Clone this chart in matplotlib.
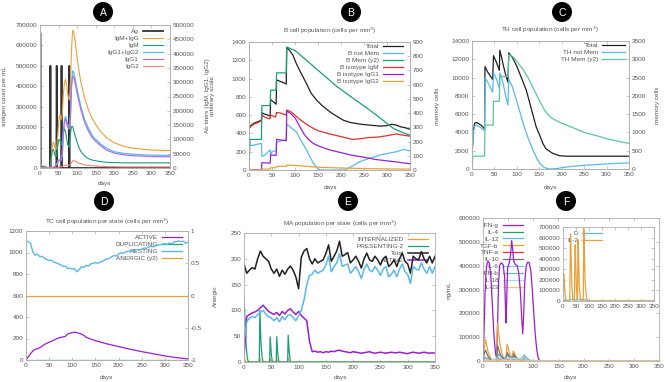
import matplotlib
matplotlib.use('Agg')
import matplotlib.pyplot as plt
from matplotlib.patches import Ellipse

plt.rcParams['font.family'] = ['Liberation Sans', 'DejaVu Sans']

W, H = 669, 382
FS = 4.6
TC = '#555555'
SC = '#b0b0b0'
BLACK = '#202020'; ORANGE = '#e9a23b'; GREEN = '#1a9e77'; LBLUE = '#5bb8e8'
PURPLE = '#9a1fd0'; RED = '#e0302a'; GRAY = '#707070'

# ---------------- Panel A data ----------------
ag_days = [0, 1.5, 2, 27, 28, 29, 44, 45, 46, 57, 58, 59, 78, 79, 80, 350]
ag_vals = [660000, 660000, 0, 0, 500000, 0, 0, 500000, 0, 0, 500000, 0, 0, 500000, 0, 0]
ab_days = [0, 5, 10, 15, 20, 27, 30, 33, 36, 39, 42, 45, 48, 51, 54, 57, 60, 63, 66, 69, 72, 75, 79,
           82, 85, 88, 91, 95, 100, 105, 110, 120, 130, 140, 150, 165, 180, 200, 225, 250, 300, 350]
igm_igg = [0, 6000, 7000, 4000, 2000, 1000, 30000, 75000, 91000, 78000, 64000, 68000, 120000, 170000,
           185000, 168000, 190000, 260000, 300000, 310000, 285000, 255000, 237000, 300000, 420000, 482000,
           475000, 440000, 385000, 340000, 300000, 245000, 205000, 175000, 152000, 125000, 105000, 88000,
           76000, 69000, 63000, 61000]
igm = [0, 5000, 6000, 3000, 1000, 0, 30000, 60000, 65000, 50000, 40000, 42000, 80000, 100000, 98000,
       80000, 95000, 125000, 138000, 125000, 100000, 80000, 72000, 120000, 145000, 145000, 130000, 110000,
       90000, 72000, 58000, 42000, 33000, 28000, 25000, 22000, 20000, 19000, 18000, 18000, 18000, 18000]
igg1_igg2 = [0, 0, 0, 0, 0, 0, 1000, 2000, 3000, 5000, 8000, 12000, 25000, 28000, 30000, 30000, 50000,
             130000, 170000, 180000, 165000, 150000, 145000, 190000, 300000, 340000, 335000, 310000, 275000,
             245000, 215000, 170000, 140000, 115000, 100000, 82000, 68000, 57000, 51000, 48000, 45000, 44000]
igg1 = [0, 0, 0, 0, 0, 0, 800, 1500, 2500, 4000, 7000, 10000, 22000, 25000, 27000, 27000, 45000, 120000,
        160000, 170000, 155000, 142000, 137000, 180000, 285000, 322000, 318000, 295000, 260000, 232000,
        204000, 160000, 130000, 107000, 93000, 76000, 62000, 52000, 46000, 43000, 40000, 39000]
igg2 = [0, 0, 0, 0, 0, 0, 0, 0, 0, 0, 0, 0, 2000, 3000, 4000, 4000, 6000, 8000, 10000, 10000, 10000, 9500,
        9000, 12000, 18000, 25000, 26000, 24000, 20000, 17000, 15000, 11000, 9000, 8000, 7000, 6000, 5000,
        4500, 4000, 4000, 4000, 4000]

# ---------------- Panel B data ----------------
b_tot_d = [0, 3, 10, 20, 27, 28, 35, 46, 47, 52, 59, 60, 65, 75, 81, 82, 88, 95, 103, 110, 125, 135, 147,
           160, 176, 190, 205, 220, 241, 260, 285, 300, 310, 320, 330, 340, 350]
b_tot_v = [460, 480, 510, 530, 545, 625, 610, 590, 770, 750, 720, 985, 975, 955, 940, 1340, 1310, 1260,
           1163, 1090, 945, 840, 764, 700, 636, 590, 545, 520, 502, 492, 480, 485, 500, 492, 472, 462, 445]
b_nm_d = [0, 2, 10, 20, 27, 28, 35, 46, 47, 50, 59, 60, 70, 81, 82, 90, 103, 110, 125, 140, 150, 155, 208,
          220, 241, 260, 285, 300, 321, 335, 350]
b_nm_v = [440, 270, 270, 285, 290, 150, 165, 220, 160, 200, 210, 300, 320, 330, 500, 470, 418, 350, 218, 73,
          10, 0, 0, 30, 91, 125, 164, 180, 200, 225, 210]
b_mem_d = [0, 2, 27, 28, 46, 47, 59, 60, 81, 82, 100, 125, 154, 190, 227, 250, 277, 314, 335, 350]
b_mem_v = [0, 215, 215, 453, 453, 561, 561, 683, 683, 865, 840, 771, 690, 590, 502, 450, 386, 292, 262, 245]
b_igm_d = [0, 5, 10, 20, 27, 28, 35, 46, 47, 58, 60, 70, 81, 82, 90, 100, 110, 125, 140, 150, 175, 200,
           225, 240, 260, 280, 300, 320, 330, 350]
b_igm_v = [455, 480, 500, 520, 540, 600, 575, 560, 600, 580, 630, 620, 600, 655, 640, 600, 555, 500, 455,
           430, 395, 365, 335, 340, 355, 360, 375, 395, 385, 370]
b_g1_d = [0, 27, 28, 46, 47, 59, 60, 81, 82, 90, 100, 110, 120, 130, 140, 150, 175, 200, 225, 250, 275,
          300, 325, 350]
b_g1_v = [0, 0, 80, 75, 165, 160, 335, 320, 645, 620, 570, 480, 390, 330, 290, 265, 220, 190, 160, 140,
          115, 100, 85, 68]
b_g2_d = [0, 27, 28, 46, 47, 59, 60, 81, 82, 100, 125, 150, 200, 250, 300, 350]
b_g2_v = [0, 0, 10, 10, 25, 25, 40, 40, 55, 50, 40, 30, 22, 16, 12, 10]

# ---------------- Panel C data ----------------
c_tot_d = [0, 3, 6, 10, 20, 28, 29, 35, 46, 48, 55, 61, 62, 66, 70, 75, 80, 82, 90, 99, 110, 121, 130, 143,
           150, 158, 165, 180, 195, 210, 250, 300, 350]
c_tot_v = [1400, 4200, 5000, 5100, 4800, 4400, 11200, 10600, 9800, 12400, 11600, 10800, 13000, 12200,
           11300, 10300, 9500, 12700, 12200, 11345, 10000, 8618, 7000, 4618, 3800, 2800, 2200, 1709, 1455,
           1400, 1400, 1400, 1400]
c_nm_d = [0, 3, 6, 10, 20, 28, 29, 35, 46, 48, 55, 61, 62, 66, 70, 75, 80, 82, 90, 99, 107, 114, 125, 136,
          145, 151, 160, 166, 175, 190, 200, 225, 250, 275, 300, 325, 350]
c_nm_v = [1400, 4000, 4700, 4800, 4500, 4200, 10000, 9500, 8400, 10500, 9800, 8800, 10500, 10000, 9200,
          8000, 7000, 9800, 9000, 7527, 6200, 4981, 3400, 2072, 1100, 618, 200, 72, 0, 50, 150, 300, 400,
          480, 560, 620, 660]
c_mem_d = [0, 2, 28, 29, 47, 48, 61, 62, 81, 82, 90, 100, 112, 125, 137, 150, 162, 175, 187, 200, 225, 250,
           275, 300, 325, 350]
c_mem_v = [0, 350, 350, 1200, 1200, 1850, 1850, 2530, 2530, 3130, 3080, 2950, 2750, 2500, 2200, 1880, 1600,
           1410, 1330, 1250, 1130, 1000, 920, 830, 760, 700]

# ---------------- Panel D data ----------------
d_days = [0, 5, 10, 15, 20, 25, 30, 35, 40, 45, 50, 55, 60, 65, 70, 75, 80, 85, 90, 95, 100, 105, 110, 115,
          120, 125, 130, 135, 140, 145, 150, 155, 160, 165, 170, 175, 180, 185, 190, 195, 200, 205, 210,
          215, 220, 225, 230, 235, 240, 245, 250, 255, 260, 265, 270, 275, 280, 285, 290, 295, 300, 305,
          310, 315, 320, 325, 330, 335, 340, 345, 350]
d_resting = [1110, 1100, 1085, 1000, 975, 985, 960, 965, 945, 935, 925, 930, 910, 905, 895, 885, 870, 875,
             850, 855, 845, 850, 820, 840, 870, 860, 880, 875, 895, 900, 905, 900, 910, 918, 930, 940, 945,
             960, 972, 968, 985, 998, 992, 1005, 1012, 1008, 1020, 1018, 1028, 1025, 1030, 1042, 1038, 1050,
             1058, 1052, 1060, 1068, 1070, 1078, 1082, 1075, 1088, 1080, 1098, 1100, 1108, 1100, 1105,
             1085, 1095]
d_act_d = [0, 5, 10, 15, 20, 25, 30, 35, 40, 45, 50, 55, 60, 65, 70, 75, 80, 85, 90, 95, 100, 105, 110, 115,
           120, 125, 130, 140, 150, 160, 175, 200, 225, 250, 275, 300, 325, 350]
d_active = [0, 30, 60, 85, 100, 105, 115, 130, 145, 155, 165, 175, 185, 195, 205, 210, 215, 220, 240, 250,
            255, 258, 255, 248, 240, 230, 210, 195, 180, 168, 150, 125, 100, 78, 58, 38, 22, 10]
d_dup = [0, 0, 0, 0, 0, 0, 0, 0, 0, 0, 0, 0, 0, 0, 0, 0, 0, 0, 0, 0, 0, 0, 0, 0, 0, 0, 0, 0, 0, 0, 0, 0, 0, 0,
         0, 0, 0, 0]
d_anergic = [0, 0, 0, 0, 0, 0, 0, 0, 0, 0, 0, 0, 0, 0, 0, 0, 0, 0, 0, 0, 0, 0, 0, 0, 0, 0, 0, 0, 0, 0, 0, 0, 0,
             0, 0, 0, 0, 0]

# ---------------- Panel E data ----------------
e_days = d_days
e_total = [190, 172, 178, 183, 180, 200, 215, 205, 200, 195, 180, 172, 180, 166, 178, 170, 180, 186, 178,
           165, 142, 203, 215, 220, 200, 190, 200, 192, 195, 198, 210, 227, 195, 205, 215, 234, 205, 208,
           212, 192, 198, 205, 195, 182, 200, 211, 198, 195, 205, 198, 188, 200, 205, 185, 190, 198, 185,
           200, 211, 195, 190, 172, 205, 200, 198, 214, 200, 192, 205, 192, 205]
e_resting = [40, 78, 85, 88, 86, 92, 96, 100, 93, 88, 85, 80, 86, 78, 88, 82, 90, 92, 86, 80, 90, 100, 120,
             150, 168, 170, 178, 172, 175, 178, 188, 205, 175, 185, 192, 210, 185, 188, 190, 172, 178, 185,
             175, 162, 180, 190, 178, 175, 185, 178, 168, 180, 185, 165, 170, 178, 165, 180, 190, 175, 170,
             152, 185, 180, 178, 192, 180, 172, 185, 172, 185]
e_active = [10, 88, 92, 95, 97, 100, 105, 110, 104, 98, 95, 92, 96, 90, 98, 93, 100, 103, 97, 92, 98, 90,
            85, 80, 40, 20, 21, 19, 20, 18, 20, 19, 21, 20, 22, 23, 21, 20, 19, 18, 20, 19, 18, 17, 18, 19,
            20, 18, 17, 18, 19, 18, 17, 18, 19, 18, 18, 19, 18, 17, 16, 18, 19, 18, 17, 18, 19, 18, 17, 18, 17]
e_pres_d = [0, 2, 4, 6, 8, 28, 29, 31, 33, 35, 47, 48, 50, 52, 59, 60, 62, 64, 80, 81, 83, 85, 350]
e_pres_v = [125, 80, 30, 8, 0, 0, 100, 40, 10, 0, 0, 49, 15, 0, 0, 49, 15, 0, 0, 52, 18, 0, 0]
e_int_d = [0, 2, 4, 28, 29, 31, 47, 48, 50, 59, 60, 62, 80, 81, 83, 350]
e_int_v = [15, 3, 0, 0, 8, 0, 0, 6, 0, 0, 6, 0, 0, 7, 0, 0]

# ---------------- Panel F data ----------------
ifng_d = [0, 2, 4, 6, 8, 10, 13, 16, 19, 22, 25, 27, 29, 31, 33, 36, 40, 43, 45, 46, 47, 49, 52, 55, 57, 59,
          61, 64, 68, 71, 74, 77, 79, 81, 83, 86, 89, 92, 95, 98, 101, 104, 107, 110, 114, 350]
ifng_v = [0, 120000, 280000, 370000, 410000, 418000, 410000, 340000, 220000, 100000, 30000, 15000, 150000,
          330000, 400000, 412000, 405000, 350000, 200000, 160000, 250000, 390000, 410000, 450000, 505000,
          470000, 420000, 405000, 400000, 370000, 300000, 180000, 115000, 200000, 330000, 400000, 415000,
          412000, 380000, 300000, 200000, 110000, 45000, 10000, 0, 0]
tgfb_d = [0, 3, 5, 7, 10, 14, 18, 22, 27, 28, 29, 31, 34, 38, 42, 46, 47, 48, 50, 53, 57, 59, 60, 62, 65,
          70, 75, 80, 82, 84, 88, 95, 350]
tgfb_v = [0, 60000, 90000, 70000, 40000, 15000, 5000, 0, 0, 90000, 160000, 120000, 70000, 30000, 10000, 5000,
          50000, 70000, 55000, 30000, 15000, 30000, 42000, 35000, 20000, 8000, 3000, 12000, 18000, 10000,
          3000, 0, 0]
il10_d = [0, 3, 5, 7, 10, 15, 20, 27, 29, 31, 35, 40, 46, 48, 50, 55, 59, 61, 63, 68, 75, 80, 82, 85, 90,
          95, 350]
il10_v = [0, 35000, 45000, 35000, 20000, 5000, 0, 0, 65000, 50000, 25000, 10000, 5000, 35000, 28000, 12000,
          8000, 30000, 22000, 8000, 2000, 5000, 15000, 8000, 2000, 0, 0]
il12_d = [0, 5, 10, 20, 28, 31, 35, 42, 48, 52, 58, 62, 66, 75, 82, 86, 92, 100, 350]
il12_v = [0, 15000, 10000, 3000, 5000, 30000, 20000, 8000, 30000, 15000, 8000, 20000, 10000, 5000, 25000,
          15000, 5000, 0, 0]
tnfa_d = [0, 5, 15, 28, 31, 40, 48, 55, 61, 70, 82, 90, 100, 350]
tnfa_v = [0, 8000, 2000, 0, 10000, 2000, 6000, 1000, 6000, 1000, 5000, 1000, 0, 0]
il4_d = [0, 350]
il4_v = [0, 0]
il6_d = [0, 5, 15, 30, 40, 48, 60, 82, 95, 350]
il6_v = [0, 5000, 1000, 6000, 1000, 4000, 4000, 5000, 0, 0]
ifnb_d = [0, 350]
ifnb_v = [0, 0]
il18_d = [0, 5, 15, 31, 42, 48, 62, 82, 92, 350]
il18_v = [0, 8000, 2000, 15000, 3000, 12000, 10000, 14000, 0, 0]
il23_d = [0, 5, 15, 30, 40, 48, 60, 82, 95, 350]
il23_v = [0, 4000, 1000, 5000, 1000, 3000, 3000, 4000, 0, 0]
il2_d = [0, 1, 3, 5, 8, 12, 16, 26, 27, 28, 29, 31, 34, 38, 42, 44, 45, 46, 47, 49, 52, 55, 56, 57, 58, 60,
         63, 67, 72, 78, 79, 80, 82, 85, 90, 95, 100, 350]
il2_v = [0, 150000, 255000, 180000, 60000, 10000, 0, 0, 200000, 500000, 633000, 450000, 150000, 20000, 0, 0,
         250000, 450000, 532000, 350000, 100000, 20000, 50000, 350000, 580000, 420000, 120000, 20000, 0, 0,
         400000, 684000, 500000, 180000, 30000, 5000, 0, 0]
dd_d = [0, 5, 20, 30, 50, 60, 80, 90, 100, 350]
dd_v = [0, 10000, 5000, 15000, 10000, 12000, 15000, 5000, 0, 0]

fig = plt.figure(figsize=(W / 100, H / 100), dpi=100)


def rect(l, r, t, b):
    return [l / W, 1 - b / H, (r - l) / W, (b - t) / H]


def style(ax, twin=False):
    for s in ax.spines.values():
        s.set_color(SC)
        s.set_linewidth(0.6)
    ax.tick_params(direction='in', length=2.5, width=0.5, color=SC, labelcolor=TC, labelsize=FS, pad=2,
                   top=True, right=not twin)
    ax.set_xlim(0, 350)
    ax.set_xticks([0, 50, 100, 150, 200, 250, 300, 350])


def style2(ax2):
    ax2.tick_params(direction='in', length=2.5, width=0.5, color=SC, labelcolor=TC, labelsize=FS, pad=2)
    for s in ax2.spines.values():
        s.set_color(SC)
        s.set_linewidth(0.6)


def legend(ax, loc_xy, handles=None, hl=3.2, ls=0.22):
    kw = {} if handles is None else {'handles': handles}
    leg = ax.legend(loc='upper right', bbox_to_anchor=loc_xy, frameon=False, markerfirst=False,
                    fontsize=FS, handlelength=hl, handletextpad=0.6, labelspacing=ls, borderpad=0,
                    borderaxespad=0, **kw)
    for t in leg.get_texts():
        t.set_color(TC)
    leg.set_zorder(1)
    return leg


def ftext(x, y, s, rot=0, **kw):
    fig.text(x / W, 1 - y / H, s, ha='center', va='center', rotation=rot, fontsize=FS, color=TC, **kw)


def badge(x, y, s):
    fig.add_artist(Ellipse((x / W, 1 - y / H), 20 / W, 20 / H, transform=fig.transFigure,
                           facecolor='black', edgecolor='none'))
    fig.text(x / W, 1 - y / H - 0.002, s, ha='center', va='center', color='white', fontsize=7.5)


# ---------- A ----------
axA = fig.add_axes(rect(40, 170, 25, 168))
style(axA, twin=True)
axA2 = axA.twinx()
style2(axA2)
axA.set_ylim(0, 700000)
axA.set_yticks(range(0, 700001, 100000))
axA2.set_ylim(0, 500000)
axA2.set_yticks(range(0, 500001, 50000))
hA = []
hA += axA.plot(ag_days, ag_vals, color='#333333', lw=1.3, label='Ag')
hA += axA2.plot(ab_days, igm_igg, color=ORANGE, lw=0.8, label='IgM+IgG')
hA += axA2.plot(ab_days, igm, color=GREEN, lw=0.8, label='IgM')
hA += axA2.plot(ab_days, igg1_igg2, color=LBLUE, lw=0.9, label='IgG1+IgG2')
hA += axA2.plot(ab_days, igg1, color='#b070e8', lw=0.9, label='IgG1')
hA += axA2.plot(ab_days, igg2, color='#f08878', lw=0.8, label='IgG2')
legend(axA2, (0.946, 0.972), handles=hA)
ftext(5, 96, 'antigen count per mL', rot=90)
ftext(210, 96, 'Ab titers (IgM, IgG1, IgG2)\narbitrary scale', rot=90, linespacing=1.1)
ftext(105, 183, 'days')
badge(103, 12, 'A')

# ---------- B ----------
axB = fig.add_axes(rect(249, 410, 42, 170))
style(axB, twin=True)
axB2 = axB.twinx()
style2(axB2)
axB.set_ylim(0, 1400)
axB.set_yticks(range(0, 1401, 200))
axB2.set_ylim(0, 900)
axB2.set_yticks(range(0, 901, 100))
hB = []
hB += axB.plot(b_tot_d, b_tot_v, color=BLACK, lw=0.9, label='Total')
hB += axB.plot(b_nm_d, b_nm_v, color=LBLUE, lw=0.9, label='B not Mem')
hB += axB2.plot(b_mem_d, b_mem_v, color=GREEN, lw=0.9, label='B Mem (y2)')
hB += axB.plot(b_igm_d, b_igm_v, color=RED, lw=0.9, label='B isotype IgM')
hB += axB.plot(b_g1_d, b_g1_v, color=PURPLE, lw=0.9, label='B isotype IgG1')
hB += axB.plot(b_g2_d, b_g2_v, color=ORANGE, lw=0.9, label='B isotype IgG2')
legend(axB2, (0.957, 0.99), handles=hB, ls=0.25)
ftext(330, 31, 'B cell population (cells per mm$^3$)')
ftext(437, 106, 'memory cells', rot=90)
ftext(330, 187, 'days')
badge(351, 12, 'B')

# ---------- C ----------
axC = fig.add_axes(rect(472, 629, 41, 169))
style(axC, twin=True)
axC2 = axC.twinx()
style2(axC2)
axC.set_ylim(0, 14000)
axC.set_yticks(range(0, 14001, 2000))
axC2.set_ylim(0, 3500)
axC2.set_yticks(range(0, 3501, 500))
hC = []
hC += axC.plot(c_tot_d, c_tot_v, color=BLACK, lw=0.9, label='Total')
hC += axC.plot(c_nm_d, c_nm_v, color=LBLUE, lw=0.9, label='TH not Mem')
hC += axC2.plot(c_mem_d, c_mem_v, color='#5cc4a0', lw=0.9, label='TH Mem (y2)')
legend(axC2, (0.975, 0.99), handles=hC, hl=3.6, ls=0.25)
ftext(550, 30, 'TH cell population (cells per mm$^3$)')
ftext(657, 105, 'memory cells', rot=90)
ftext(550, 187, 'days')
badge(562, 12, 'C')

# ---------- D ----------
axD = fig.add_axes(rect(26, 188, 231, 360))
style(axD, twin=True)
axD2 = axD.twinx()
style2(axD2)
axD.set_ylim(0, 1200)
axD.set_yticks(range(0, 1201, 200))
axD2.set_ylim(-1, 1)
axD2.set_yticks([-1, -0.5, 0, 0.5, 1])
axD2.set_yticklabels(['-1', '-0.5', '0', '0.5', '1'])
axD.plot(d_act_d, d_active, color=PURPLE, lw=0.9, label='ACTIVE')
axD.plot(d_act_d, d_dup, color=GREEN, lw=0.9, label='DUPLICATING')
axD.plot(d_days, d_resting, color=LBLUE, lw=1.0, label='RESTING')
axD2.plot(d_act_d, d_anergic, color=ORANGE, lw=0.9)
axD.plot([], [], color=ORANGE, lw=0.9, label='ANERGIC (y2)')
legend(axD, (0.963, 0.97))
ftext(107, 222, 'TC cell population per state (cells per mm$^3$)')
ftext(215, 296, 'Anergic', rot=90)
ftext(107, 377, 'days')
badge(104, 201, 'D')

# ---------- E ----------
axE = fig.add_axes(rect(244, 435, 233, 362))
style(axE)
axE.set_ylim(0, 250)
axE.set_yticks(range(0, 251, 50))
axE.plot(e_int_d, e_int_v, color=ORANGE, lw=0.9, label='INTERNALIZED')
axE.plot(e_pres_d, e_pres_v, color=GREEN, lw=0.9, label='PRESENTING-2')
axE.plot(e_days, e_total, color=BLACK, lw=1.1, label='Total')
axE.plot(e_days, e_active, color=PURPLE, lw=1.1, label='ACTIVE')
axE.plot(e_days, e_resting, color=LBLUE, lw=1.1)
legend(axE, (0.964, 0.97))
ftext(340, 224, 'MA population per state (cells per mm$^3$)')
ftext(340, 378, 'days')
badge(348, 201, 'E')

# ---------- F ----------
axF = fig.add_axes(rect(483, 659, 218, 361))
style(axF)
axF.set_ylim(0, 600000)
axF.set_yticks(range(0, 600001, 100000))
axF.plot(ifng_d, ifng_v, color=PURPLE, lw=0.9, label='IFN-g')
axF.plot(il4_d, il4_v, color=GREEN, lw=0.9, label='IL-4')
axF.plot(il12_d, il12_v, color=LBLUE, lw=0.9, label='IL-12')
axF.plot(tgfb_d, tgfb_v, color=ORANGE, lw=0.9, label='TGF-b')
axF.plot(tnfa_d, tnfa_v, color=RED, lw=0.9, label='TNF-a')
axF.plot(il10_d, il10_v, color=GRAY, lw=0.9, label='IL-10')
axF.plot(il6_d, il6_v, color='#7ec8e3', lw=0.9, label='IL-6')
axF.plot(ifnb_d, ifnb_v, color='#66c2a5', lw=0.9, label='IFN-b')
axF.plot(il18_d, il18_v, color='#a6d8f0', lw=0.9, label='IL-18')
axF.plot(il23_d, il23_v, color='#f4c27a', lw=0.9, label='IL-23')
legend(axF, (0.227, 0.969))
ftext(449, 290, 'ng/mL', rot=90)
ftext(571, 377, 'days')
badge(566, 201, 'F')

axI = fig.add_axes(rect(563, 654, 227, 301))
style(axI)
axI.set_ylim(0, 700000)
axI.set_yticks(range(0, 700001, 100000))
axI.plot(dd_d, dd_v, color=LBLUE, lw=0.9, label='D')
axI.plot(il2_d, il2_v, color=ORANGE, lw=0.9, label='IL-2')
legend(axI, (0.43, 0.95))

fig.savefig('out.png', dpi=100)
